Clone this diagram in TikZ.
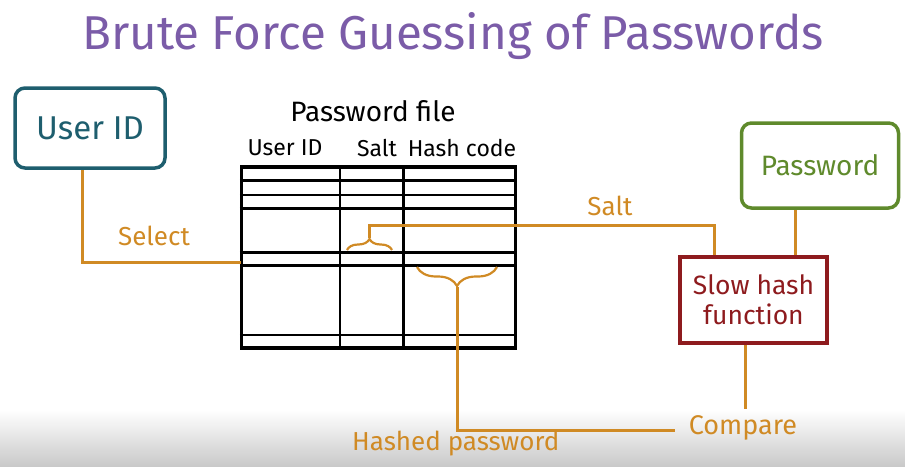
\documentclass[tikz,border=0pt]{standalone}
\usepackage{fontspec}
\setmainfont{Fira Sans}
\usetikzlibrary{positioning, calc, decorations.pathreplacing}
\definecolor{moradotitulo}{HTML}{7B5CA8}
\definecolor{azulusuario}{HTML}{1E5E6E}
\definecolor{verdeclave}{HTML}{5F8A2C}
\definecolor{rojohash}{HTML}{8E1B1E}
\definecolor{ocrelinea}{HTML}{D08A24}
\definecolor{grisfondo}{HTML}{C9C9C9}
\colorlet{colTabla}{black}
\tikzset{
  cajaBase/.style={
    line width=3.5pt, align=center, fill=white,
    font=\fontsize{33}{35}\selectfont
  },
  cajaUsuario/.style={cajaBase, draw=azulusuario, text=azulusuario,
    rounded corners=10pt, minimum width=150, minimum height=80},
  cajaClave/.style={cajaBase, draw=verdeclave, text=verdeclave,
    rounded corners=10pt, minimum width=157, minimum height=85,
    font=\fontsize{28}{30}\selectfont},
  cajaHash/.style={cajaBase, draw=rojohash, text=rojohash,
    minimum width=147, minimum height=86, font=\fontsize{26.5}{30}\selectfont},
  linea/.style={line width=3pt, ocrelinea},
  llave/.style={line width=2.2pt, ocrelinea, decorate},
  rejilla/.style={line width=2.6pt, colTabla},
  etiqueta/.style={text=ocrelinea, font=\fontsize{26}{28}\selectfont, inner sep=1pt},
  cabecera/.style={text=colTabla, font=\fontsize{23}{25}\selectfont, inner sep=1pt},
}

\begin{document}
\begin{tikzpicture}[x=1pt, y=-1pt]
  \useasboundingbox (0,0) rectangle (905,466);
  \shade[top color=white, bottom color=grisfondo] (0,410) rectangle (905,466);
  \node[text=moradotitulo, font=\fontsize{47.5}{50}\selectfont] (titulo) at (453,36)
    {Brute Force Guessing of Passwords};

  % cajas
  \node[cajaUsuario] (usuario) at (90,128) {User ID};
  \node[cajaClave] (clave) at (820,165.5) {Password};
  \node[cajaHash] (hash) at (753.5,300) {Slow hash\\function};

  % archivo de claves
  \node[draw=colTabla, line width=3.5pt, minimum width=274, minimum height=181,
        inner sep=0pt] (tabla) at (378.5,257.5) {};
  \foreach \y in {180.7,195,208.3,252.3,265.7,335}
    \draw[rejilla] (tabla.west |- 0,\y) -- (tabla.east |- 0,\y);
  \foreach \x in {340,403.3}
    \draw[rejilla] (tabla.north -| \x,0) -- (tabla.south -| \x,0);
  \node[cabecera, font=\fontsize{28}{30}\selectfont] (archivo) at (373,111) {Password file};
  \node[cabecera] (colUsuario) at (285,148) {User ID};
  \node[cabecera] (colSal) at (377,148) {Salt};
  \node[cabecera] (colHash) at (462,148) {Hash code};

  % llaves
  \draw[llave, decoration={brace, amplitude=11pt}] (347,250) -- (392,250);
  \draw[llave, decoration={brace, amplitude=19pt}] (497,267) -- (417,267);
  \coordinate (puntaSal) at (369.5,238);
  \coordinate (puntaHash) at (457,287);
  \coordinate (selec) at (241,262);

  % etiquetas
  \node[etiqueta] (lblSelect) at (154,236) {Select};
  \node[etiqueta] (lblSal) at (610,206) {Salt};
  \node[etiqueta, font=\fontsize{27}{29}\selectfont] (lblCompare) at (743,428) {Compare};
  \node[etiqueta, anchor=west] (lblHashed) at (351,444) {Hashed password};

  % conexiones
  \draw[linea] ([xshift=-8]usuario.south) |- (selec);
  \draw[linea] (puntaSal) -- ++(0,-13) -| ([xshift=-39.5]hash.north);
  \draw[linea] ([xshift=-25]clave.south) -- ([xshift=-25]clave.south |- hash.north);
  \draw[linea] (puntaHash) |- ([xshift=-13,yshift=-2]lblCompare.west);
  \draw[linea] ([xshift=-8.5]hash.south) -- ++(0,64);
\end{tikzpicture}
\end{document}
